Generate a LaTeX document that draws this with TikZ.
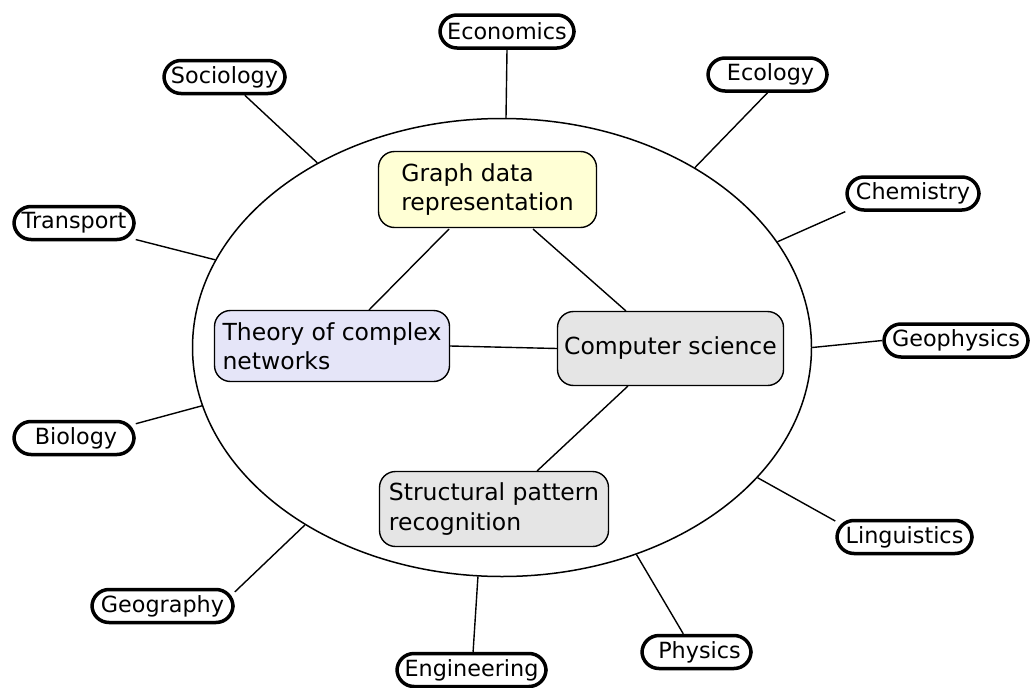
\documentclass[tikz,border=0pt]{standalone}
\usepackage{fontspec}
\setmainfont{DejaVu Sans}
\usetikzlibrary{shapes.geometric}
\definecolor{yel}{HTML}{FFFFD5}
\definecolor{lav}{HTML}{E5E5F8}
\definecolor{gry}{HTML}{E5E5E5}
\begin{document}
\begin{tikzpicture}[x=1pt,y=1pt,
  inner/.style={draw, line width=1.4pt, rounded corners=16pt, align=left, inner sep=0pt, font=\fontsize{23.5}{29.5}\selectfont},
  outer/.style={draw, line width=3.5pt, rounded corners=17pt, inner sep=0pt, minimum height=33pt, font=\fontsize{22.3}{27}\selectfont},
  link/.style={line width=1.4pt}]
\useasboundingbox (0,0) rectangle (1031,-688);
\node[ellipse, draw, line width=1.5pt, minimum width=619pt, minimum height=458pt, inner sep=0pt] (E) at (502,-347.5) {};
% inner boxes
\node[inner, fill=yel, minimum width=218pt, minimum height=76pt] (G) at (487.5,-189.5) {Graph data\\representation};
\node[inner, fill=lav, minimum width=235pt, minimum height=71pt] (T) at (332,-346) {Theory of complex\\networks};
\node[inner, fill=gry, minimum width=226pt, minimum height=74pt] (C) at (670.5,-348.5) {Computer science};
\node[inner, fill=gry, minimum width=229pt, minimum height=75pt] (S) at (494,-509) {Structural pattern\\recognition};
\draw[link] (449,-229) coordinate (g1) -- (369,-310) coordinate (t1);
\draw[link] (533,-229) coordinate (g2) -- (626,-311) coordinate (c1);
\draw[link] (T.east) -- (C.west);
\draw[link] (628,-386) coordinate (c2) -- (537,-471) coordinate (s1);
% outer nodes
\node[outer, minimum width=134pt] (eco) at (507,-31.5) {Economics};
\node[outer, minimum width=121pt] (soc) at (224.5,-77) {Sociology};
\node[outer, minimum width=119pt] (ecl) at (767.5,-74.5) {\hspace{6pt}Ecology};
\node[outer, minimum width=132pt] (che) at (913,-193.5) {Chemistry};
\node[outer, minimum width=120pt] (tra) at (74,-223) {Transport};
\node[outer, minimum width=144pt] (geo) at (956,-340.5) {Geophysics};
\node[outer, minimum width=120pt] (bio) at (74,-438) {\hspace{4pt}Biology};
\node[outer, minimum width=135pt] (lin) at (904.5,-537) {Linguistics};
\node[outer, minimum width=141pt] (gea) at (162.5,-606) {Geography};
\node[outer, minimum width=109pt] (phy) at (696.5,-652) {\hspace{6pt}Physics};
\node[outer, minimum width=149pt] (eng) at (471.5,-670) {Engineering};
\draw[link] (eco.-90) -- (E.89);
\draw[link] (soc.-42.7) -- (E.135.8);
\draw[link] (ecl.-90) -- (E.43.6);
\draw[link] (che.195) -- (E.21.5);
\draw[link] (tra.-15) -- (E.163.5);
\draw[link] (geo.180) -- (E.-0.4);
\draw[link] (bio.13.6) -- (E.191.8);
\draw[link] (lin.167.3) -- (E.-27.5);
\draw[link] (gea.11.7) -- (E.222.1);
\draw[link] (phy.126.9) -- (E.-57.3);
\draw[link] (eng.85) -- (E.264.6);
\end{tikzpicture}
\end{document}
